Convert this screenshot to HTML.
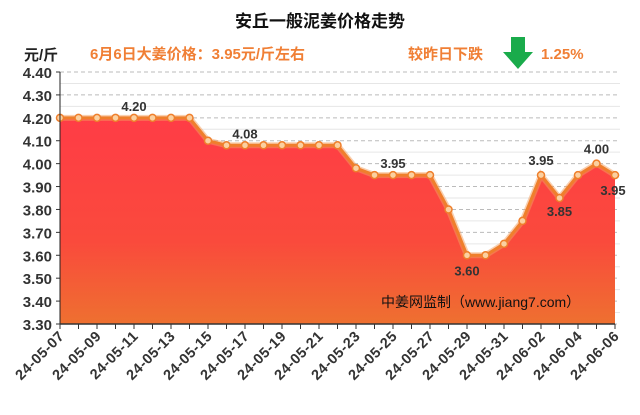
<!DOCTYPE html>
<html><head><meta charset="utf-8"><style>
body{margin:0;background:#fff;}
svg text{font-family:"Liberation Sans","Noto Sans CJK SC",sans-serif;}
</style></head><body>
<svg width="640" height="410" xmlns="http://www.w3.org/2000/svg">
<defs>
<linearGradient id="g" x1="0" y1="0" x2="0" y2="1">
<stop offset="0" stop-color="#ff3c46"/>
<stop offset="0.6" stop-color="#fa4a3c"/>
<stop offset="1" stop-color="#ee7030"/>
</linearGradient>
</defs>
<rect width="640" height="410" fill="#fff"/>
<text x="320" y="27" text-anchor="middle" font-size="17" font-weight="bold" fill="#111">安丘一般泥姜价格走势</text>
<text x="24" y="60" font-size="15" font-weight="bold" fill="#222">元/斤</text>
<text x="90" y="59" font-size="15" font-weight="bold" fill="#f07f35">6月6日大姜价格：3.95元/斤左右</text>
<text x="408" y="59" font-size="15" font-weight="bold" fill="#f07f35">较昨日下跌</text>
<polygon points="511,37 525,37 525,52 533,52 518,69 503,52 511,52" fill="#1aab4b"/>
<text x="541" y="59" font-size="15" font-weight="bold" fill="#f07f35">1.25%</text>
</svg>
<script>
var s='http://www.w3.org/2000/svg';
function el(t,a,p){var e=document.createElementNS(s,t);for(var k in a)e.setAttribute(k,a[k]);(p||document.querySelector('svg')).appendChild(e);return e;}
function Y(v){return 72+(4.40-v)/1.1*252;}
function X(i){return 60+i*18.5;}
for(var k=0;k<=22;k++){var v=4.40-k*0.05;var y=Y(v);
 if(k%2==0){el('line',{x1:60,x2:620,y1:y,y2:y,stroke:'#bbb','stroke-dasharray':'4,3'});
  var t=el('text',{x:52,y:y+6,'text-anchor':'end','font-size':15,'font-weight':'bold',fill:'#333'});t.textContent=v.toFixed(2);
  el('line',{x1:56,x2:60,y1:y,y2:y,stroke:'#333'});}
 else el('line',{x1:60,x2:620,y1:y,y2:y,stroke:'#e6e6e6'});}
var d=[4.2,4.2,4.2,4.2,4.2,4.2,4.2,4.2,4.1,4.08,4.08,4.08,4.08,4.08,4.08,4.08,3.98,3.95,3.95,3.95,3.95,3.8,3.6,3.6,3.65,3.75,3.95,3.85,3.95,4.0,3.95];
var p=d.map(function(v,i){return X(i)+','+Y(v);}).join(' ');
el('polygon',{points:'60,324 '+p+' '+X(30)+',324',fill:'url(#g)'});
el('polyline',{points:p,fill:'none',stroke:'#f4a060','stroke-width':6,opacity:0.5});
el('polyline',{points:p,fill:'none',stroke:'#ef7f2c','stroke-width':3});
d.forEach(function(v,i){el('circle',{cx:X(i),cy:Y(v),r:3.5,fill:'#fbd0a0',stroke:'#ef7f2c','stroke-width':1.5});});
el('line',{x1:60,x2:60,y1:72,y2:324,stroke:'#222'});
el('line',{x1:60,x2:615,y1:324,y2:324,stroke:'#333','stroke-width':1.5});
var dates=['24-05-07','24-05-09','24-05-11','24-05-13','24-05-15','24-05-17','24-05-19','24-05-21','24-05-23','24-05-25','24-05-27','24-05-29','24-05-31','24-06-02','24-06-04','24-06-06'];
for(var i=0;i<=30;i++){el('line',{x1:X(i),x2:X(i),y1:324,y2:329,stroke:'#333'});}
dates.forEach(function(t,j){var x=X(2*j)+5,y=337;var e=el('text',{x:x,y:y,'text-anchor':'end','font-size':14.5,'font-weight':'bold',fill:'#333','letter-spacing':'0.5',transform:'rotate(-45 '+x+' '+y+')'});e.textContent=t;});
[[4,4.2,-7],[10,4.08,-7],[18,3.95,-7],[22,3.60,20],[26,3.95,-10],[27,3.85,18],[29,4.0,-10],[30,3.95,20]].forEach(function(a){var e=el('text',{x:X(a[0])+(a[0]==30?-2:0),y:Y(a[1])+a[2],'text-anchor':'middle','font-size':13,'font-weight':'bold',fill:'#333'});e.textContent=a[1].toFixed(2);});
var w=el('text',{x:381,y:307,'font-size':14,fill:'#111'});w.textContent='中姜网监制（www.jiang7.com）';
</script>
</body></html>
